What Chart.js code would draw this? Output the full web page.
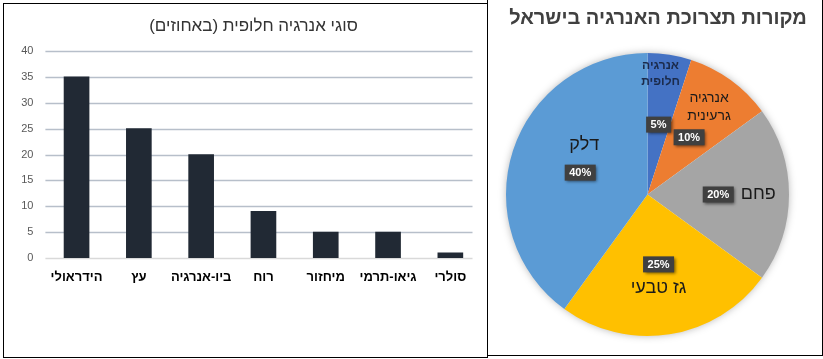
<!DOCTYPE html>
<html><head><meta charset="utf-8">
<script src="https://cdn.jsdelivr.net/npm/chart.js@4/dist/chart.umd.min.js"></script>
<style>
html,body{margin:0;padding:0;background:#fff;width:823px;height:359px;overflow:hidden;position:relative;}
.panel{position:absolute;border:1px solid #000;background:#fff;}
#leftPanel{left:3px;top:3px;width:483px;height:353px;}
#rightPanel{left:487px;top:-1px;width:334px;height:355px;}
.wrap{position:absolute;left:0;top:0;}
</style></head>
<body>
<div class="panel" id="leftPanel"><div class="wrap" style="width:483px;height:353px"><canvas id="bar"></canvas></div></div>
<div class="panel" id="rightPanel"><div class="wrap" style="width:334px;height:355px"><canvas id="pie"></canvas></div></div>
<script>
// ---- data ----
const barTitle = 'סוגי אנרגיה חלופית (באחוזים)';
const barCategories = ['הידראולי', 'עץ', 'ביו-אנרגיה', 'רוח', 'מיחזור', 'גיאו-תרמי', 'סולרי'];
const barValues = [35, 25, 20, 9, 5, 5, 1];
const yTicks = [0, 5, 10, 15, 20, 25, 30, 35, 40];

const pieTitle = 'מקורות תצרוכת האנרגיה בישראל';
const pieCategories = ['אנרגיה חלופית', 'אנרגיה גרעינית', 'פחם', 'גז טבעי', 'דלק'];
const pieValues = [5, 10, 20, 25, 40];
const pieLabelLines = [['אנרגיה', 'חלופית'], ['אנרגיה', 'גרעינית'], ['פחם'], ['גז טבעי'], ['דלק']];

// ---- styles ----
const pieColors = ['#4472C4', '#ED7D31', '#A5A5A5', '#FFC000', '#5B9BD5'];
const nameOffsets = [[2, -51], [20, -30], [40, 0], [0, 24], [4, -28]];
const nameFonts = [12, 14, 18, 18, 18];
const FONT = '"Liberation Sans", Arial, sans-serif';

const barDecor = {
  id: 'barDecor',
  beforeDatasetsDraw(chart) {
    const ctx = chart.ctx;
    const y = chart.scales.y;
    const a = chart.chartArea;
    ctx.save();
    yTicks.forEach(v => {
      const py = Math.round(y.getPixelForValue(v)) + 0.5;
      ctx.strokeStyle = v === 0 ? '#d9d9d9' : '#b7bfca';
      ctx.lineWidth = 1.3;
      ctx.beginPath();
      ctx.moveTo(a.left, py);
      ctx.lineTo(a.right - 9, py);
      ctx.stroke();
    });
    ctx.restore();
  },
  afterDraw(chart) {
    const ctx = chart.ctx;
    ctx.save();
    ctx.direction = 'rtl';
    ctx.font = '17px ' + FONT;
    ctx.fillStyle = '#333333';
    ctx.textAlign = 'center';
    ctx.textBaseline = 'middle';
    ctx.fillText(barTitle, 249.5, 22);
    ctx.restore();
  }
};

new Chart(document.getElementById('bar'), {
  type: 'bar',
  data: {
    labels: barCategories,
    datasets: [{ data: barValues, backgroundColor: '#212934', barThickness: 25 }]
  },
  options: {
    responsive: true, maintainAspectRatio: false, animation: false,
    layout: { padding: { top: 47, right: 5.5, left: 0, bottom: 0 } },
    plugins: { legend: { display: false }, tooltip: { enabled: false }, title: { display: false } },
    scales: {
      x: {
        afterFit(s) { s.height = 99; },
        grid: { display: false, drawTicks: false },
        border: { display: false },
        ticks: { color: '#000', font: { family: FONT, size: 13, weight: 'bold' }, padding: 12, maxRotation: 0, autoSkip: false }
      },
      y: {
        min: 0, max: 40,
        afterFit(s) { s.width = 41.4; },
        afterBuildTicks(s) { s.ticks = yTicks.map(v => ({ value: v })); },
        grid: { display: false, drawTicks: false },
        border: { display: false },
        ticks: { color: '#595959', font: { family: FONT, size: 11 }, padding: 12 }
      }
    }
  },
  plugins: [barDecor]
});

const pieDecor = {
  id: 'pieDecor',
  beforeDatasetsDraw(chart) {
    const arc = chart.getDatasetMeta(0).data[0];
    if (!arc) return;
    const ctx = chart.ctx;
    ctx.save();
    ctx.shadowColor = 'rgba(0,0,0,0.35)';
    ctx.shadowBlur = 9;
    ctx.fillStyle = '#ffffff';
    ctx.beginPath();
    ctx.arc(arc.x, arc.y, arc.outerRadius - 1, 0, Math.PI * 2);
    ctx.fill();
    ctx.restore();
  },
  afterDraw(chart) {
    const ctx = chart.ctx;
    ctx.save();
    ctx.direction = 'rtl';
    ctx.font = 'bold 20px ' + FONT;
    ctx.fillStyle = '#404040';
    ctx.textAlign = 'center';
    ctx.textBaseline = 'middle';
    ctx.fillText(pieTitle, 170, 18);
    ctx.restore();

    const meta = chart.getDatasetMeta(0);
    const total = pieValues.reduce((a, b) => a + b, 0);
    meta.data.forEach((el, i) => {
      const mid = (el.startAngle + el.endAngle) / 2;
      const r = el.outerRadius * 0.5;
      const bx = el.x + Math.cos(mid) * r;
      const by = el.y + Math.sin(mid) * r;
      // percent box
      const txt = Math.round(pieValues[i] / total * 100) + '%';
      ctx.save();
      ctx.font = 'bold 11px ' + FONT;
      const w = ctx.measureText(txt).width + 9;
      const h = 16;
      ctx.shadowColor = 'rgba(0,0,0,0.55)';
      ctx.shadowBlur = 3;
      ctx.shadowOffsetX = 1.5;
      ctx.shadowOffsetY = 1.5;
      ctx.fillStyle = '#404040';
      ctx.fillRect(bx - w / 2, by - h / 2, w, h);
      ctx.restore();
      ctx.save();
      ctx.font = 'bold 11px ' + FONT;
      ctx.fillStyle = '#ffffff';
      ctx.textAlign = 'center';
      ctx.textBaseline = 'middle';
      ctx.fillText(txt, bx, by + 0.5);
      // name
      ctx.direction = 'rtl';
      const fs = nameFonts[i];
      ctx.font = (i === 0 ? 'bold ' : '') + fs + 'px ' + FONT;
      ctx.fillStyle = i === 0 ? '#1b2a4a' : '#1a1a1a';
      const lines = pieLabelLines[i];
      const lh = fs * 1.3;
      const cx = bx + nameOffsets[i][0];
      const cy = by + nameOffsets[i][1];
      lines.forEach((ln, k) => {
        ctx.fillText(ln, cx, cy + (k - (lines.length - 1) / 2) * lh);
      });
      ctx.restore();
    });
  }
};

new Chart(document.getElementById('pie'), {
  type: 'pie',
  data: {
    labels: pieCategories,
    datasets: [{ data: pieValues, backgroundColor: pieColors, borderWidth: 0 }]
  },
  options: {
    responsive: true, maintainAspectRatio: false, animation: false,
    layout: { padding: { top: 53, left: 18, right: 33, bottom: 19 } },
    plugins: { legend: { display: false }, tooltip: { enabled: false }, title: { display: false } }
  },
  plugins: [pieDecor]
});
</script>
</body></html>
